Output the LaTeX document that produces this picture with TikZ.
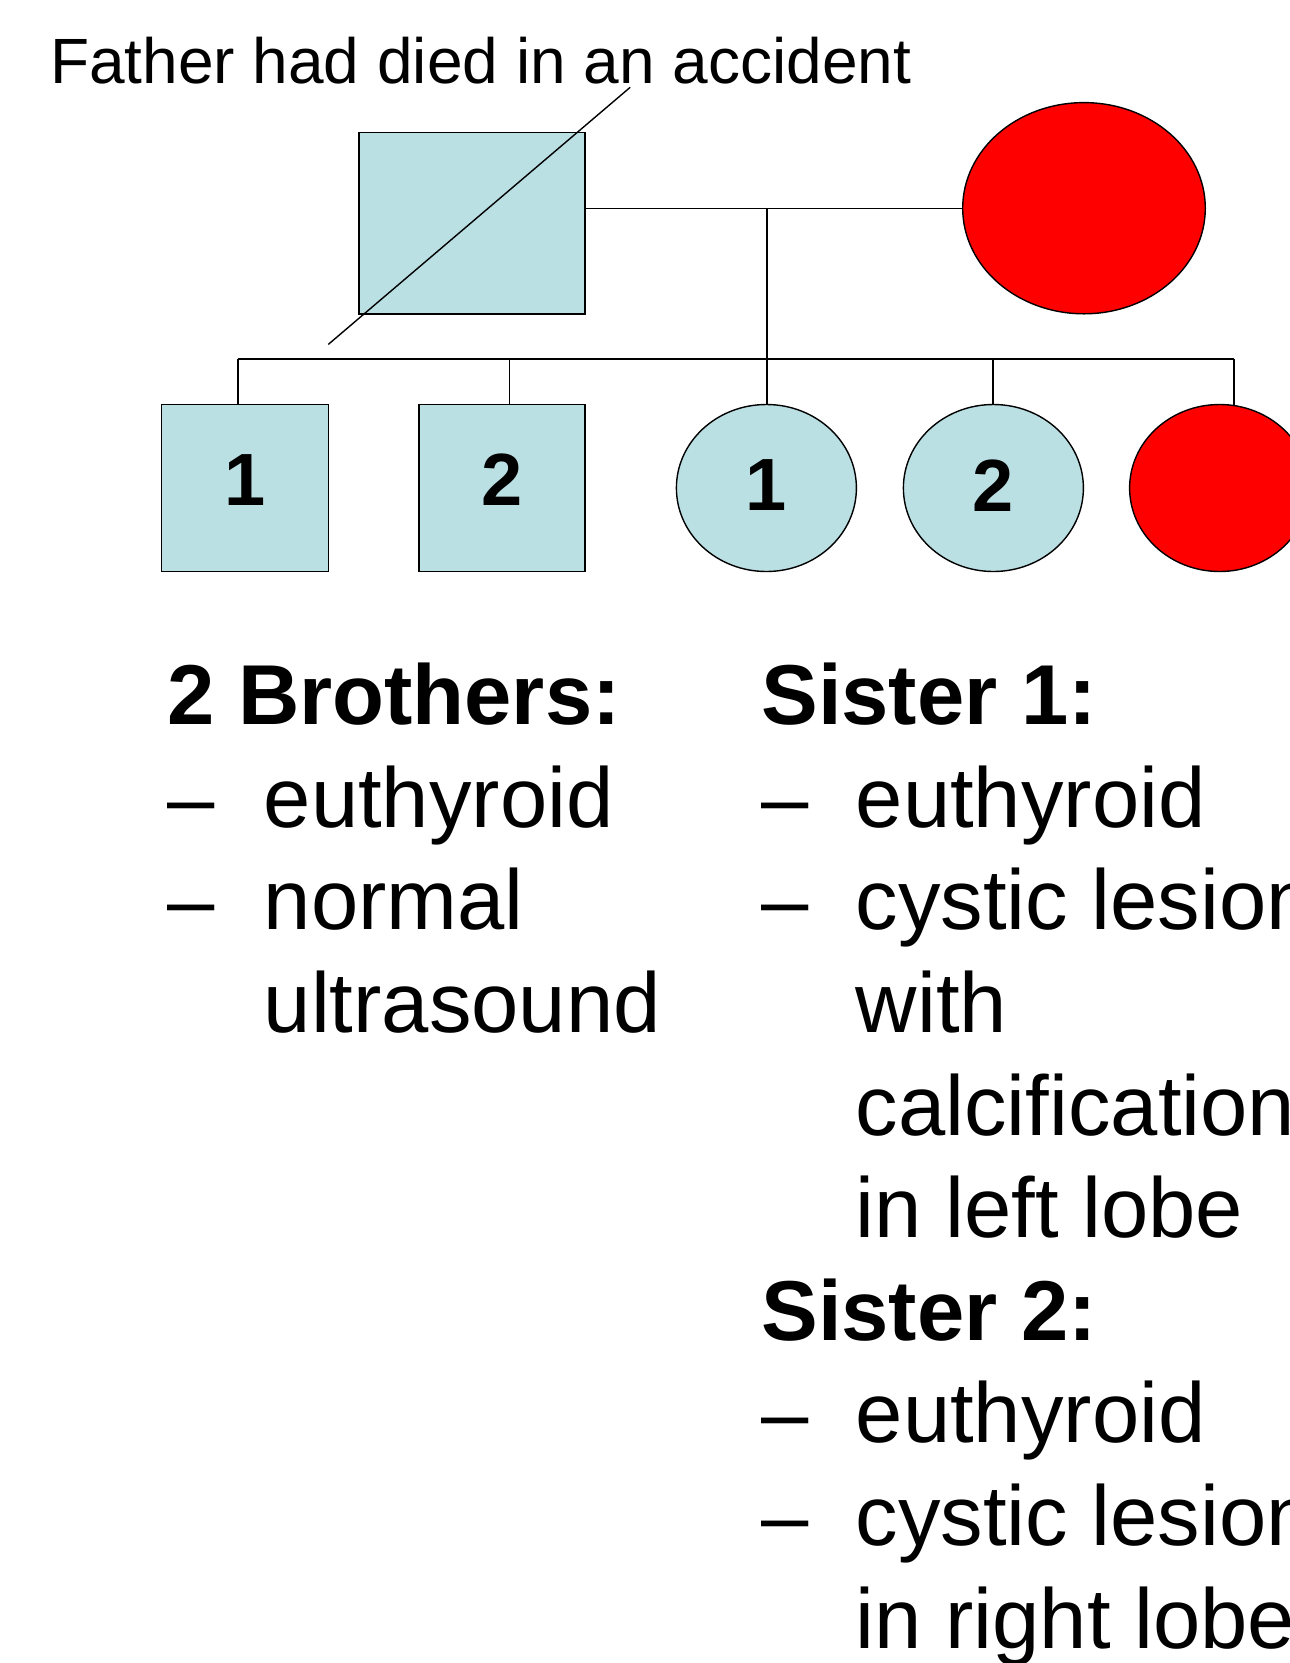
\documentclass[tikz,border=0pt]{standalone}
\usepackage{fontspec}
\setmainfont{Liberation Sans}
\usetikzlibrary{shapes.geometric}
\definecolor{pedblue}{HTML}{BBE0E3}
\definecolor{pedred}{HTML}{FF0000}
\begin{document}
\begin{tikzpicture}[x=1pt,y=-1pt,
  line width=1.4pt,
  male/.style={draw=black,fill=pedblue,rectangle,inner sep=0pt},
  female/.style={draw=black,ellipse,inner sep=0pt},
  digit/.style={font=\fontsize{74}{80}\selectfont\bfseries,inner sep=0pt},
  note/.style={font=\fontsize{64}{76}\selectfont,anchor=base west,inner sep=0pt},
  txt/.style={font=\fontsize{85}{102.6}\selectfont,anchor=base west,inner sep=0pt},
  hdr/.style={txt,font=\fontsize{85}{102.6}\selectfont\bfseries}]
\useasboundingbox (0,0) rectangle (1290,1663);

% parents
\node[male,minimum width=226pt,minimum height=181.4pt] (father) at (471.8,223.3) {};
\node[female,fill=pedred,minimum width=242.6pt,minimum height=211.2pt] (mother) at (1084,208.2) {};

% children
\node[male,minimum width=167pt,minimum height=167pt] (b1) at (244.8,488) {};
\node[male,minimum width=166pt,minimum height=167pt] (b2) at (501.9,488) {};
\node[female,fill=pedblue,minimum width=180pt,minimum height=167pt] (s1) at (766.4,488) {};
\node[female,fill=pedblue,minimum width=180pt,minimum height=167pt] (s2) at (993.4,488) {};
\node[female,fill=pedred,minimum width=180pt,minimum height=167pt] (s3) at (1219.6,488) {};

\node[digit] (n1) at ([yshift=8pt]b1.center) {1};
\node[digit] (n2) at ([yshift=8pt]b2.center) {2};
\node[digit] (n3) at ([yshift=2.5pt]s1.center) {1};
\node[digit] (n4) at ([yshift=2.5pt]s2.center) {2};

% marriage and sibship lines
\coordinate (m) at (766.8,208.2);
\draw (father.east |- mother.west) -- (mother.west);
\coordinate (k1) at (237.8,359);
\coordinate (k2) at (509.3,359);
\coordinate (k3) at (766.8,359);
\coordinate (k4) at (993,359);
\coordinate (k5) at (1234,359);
\draw (m) -- (m |- s1.north);
\draw (k1) -- (k5);
\draw (k1) -- (k1 |- b1.north);
\draw (k2) -- (k2 |- b2.north);
\draw (k4) -- (k4 |- s2.north);
\draw (k5) -- ([yshift=-1pt]k5 |- s3.north);

% deceased father
\coordinate (d1) at (328.3,344.4);
\coordinate (d2) at (630.2,87.3);
\draw (d1) -- (d2);
\node[note] (lab) at (49.4,83.4) {Father had died in an accident};

% findings, left column
\node[hdr] (bh) at (166.6,724.6) {2 Brothers:};
\node[txt] (bd1) at (166.6,827.2) {–};
\node[txt] (bt1) at (263.1,827.2) {euthyroid};
\node[txt] (bd2) at (166.6,929.8) {–};
\node[txt] (bt2) at (263.1,929.8) {normal};
\node[txt] (bt3) at (263.1,1032.4) {ultrasound};

% findings, right column
\node[hdr] (sh1) at (760.7,724.6) {Sister 1:};
\node[txt] (sd1) at (760.7,827.2) {–};
\node[txt] (st1) at (855.1,827.2) {euthyroid};
\node[txt] (sd2) at (760.7,929.8) {–};
\node[txt] (st2) at (855.1,929.8) {cystic lesion};
\node[txt] (st3) at (855.1,1032.4) {with};
\node[txt] (st4) at (855.1,1135) {calcification};
\node[txt] (st5) at (855.1,1237.6) {in left lobe};
\node[hdr] (sh2) at (760.7,1340.2) {Sister 2:};
\node[txt] (sd3) at (760.7,1442.8) {–};
\node[txt] (st6) at (855.1,1442.8) {euthyroid};
\node[txt] (sd4) at (760.7,1545.4) {–};
\node[txt] (st7) at (855.1,1545.4) {cystic lesion};
\node[txt] (st8) at (855.1,1648) {in right lobe};
\end{tikzpicture}
\end{document}
